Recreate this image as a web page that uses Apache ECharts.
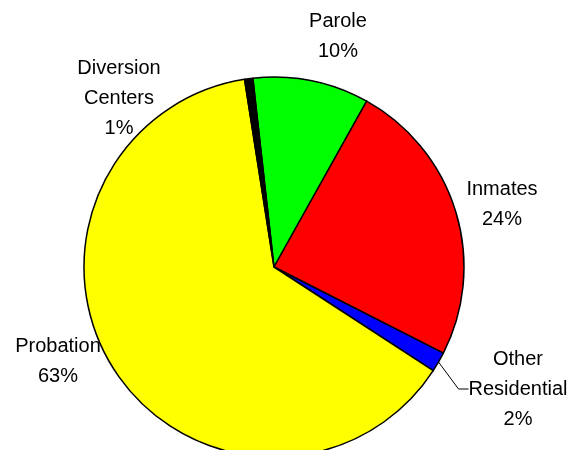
<!DOCTYPE html>
<html>
<head>
<meta charset="utf-8">
<script src="https://cdn.jsdelivr.net/npm/echarts@6/dist/echarts.min.js"></script>
<style>
  html, body { margin: 0; padding: 0; background: #fff; }
  #chart { width: 575px; height: 450px; }
</style>
</head>
<body>
<div id="chart"></div>
<script>
// slices, clockwise from just left of 12 o'clock
const names = ['Parole', 'Inmates', 'Other Residential', 'Probation', 'Diversion Centers']
const values = [9.9, 24.4, 1.7, 63.4, 0.7]
const colors = ['#00ff00', '#ff0000', '#0000ff', '#ffff00', '#000000']

// where each label block sits (centre of the text block)
const labelAt = [[338, 36], [502, 204], [518, 389], [58, 361], [119, 98]]

const chart = echarts.init(document.getElementById('chart'))

chart.setOption({
  animation: false,
  series: [
    {
      type: 'pie',
      center: [274, 267],
      radius: 190,
      startAngle: 96.4,
      clockwise: true,
      avoidLabelOverlap: false,
      percentPrecision: 0,
      itemStyle: { borderColor: '#000', borderWidth: 1.5 },
      label: {
        show: true,
        position: 'outside',
        color: '#000',
        fontFamily: 'Liberation Sans, Arial, sans-serif',
        fontSize: 20,
        lineHeight: 30,
        align: 'center',
        formatter: (p) => p.name.replace(' ', '\n') + '\n' + p.percent + '%'
      },
      labelLine: { show: false },
      labelLayout: (p) => ({
        x: labelAt[p.dataIndex][0],
        y: labelAt[p.dataIndex][1],
        align: 'center',
        verticalAlign: 'middle'
      }),
      emphasis: { disabled: true },
      data: names.map((n, i) => {
        const d = { name: n, value: values[i], itemStyle: { color: colors[i] } }
        if (n === 'Other Residential') {
          d.labelLine = { show: true, length2: 10, lineStyle: { color: '#000', width: 1 } }
        }
        return d
      })
    }
  ]
})
</script>
</body>
</html>
